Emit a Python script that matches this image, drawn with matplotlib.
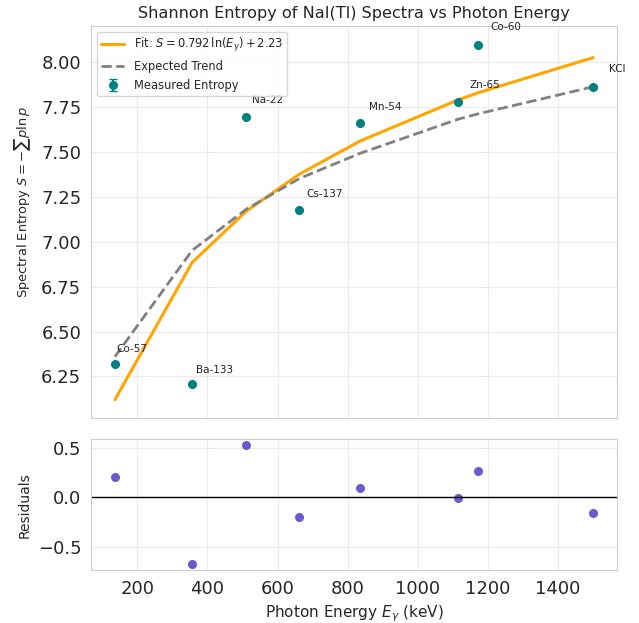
import numpy as np
import matplotlib
matplotlib.use("Agg")
import matplotlib.pyplot as plt
import seaborn as sns

sns.set_style("whitegrid")
plt.rcParams['font.family'] = ['DejaVu Sans']
plt.rcParams['grid.color'] = '#ebebeb'

# measured sources, sorted by photon energy
sources = ["Co-57", "Ba-133", "Na-22", "Cs-137", "Mn-54", "Zn-65", "Co-60", "KCl"]
energy_kev = [136, 356, 511, 662, 835, 1115, 1173, 1500]
entropy = [6.322, 6.206, 7.694, 7.178, 7.656, 7.778, 8.094, 7.861]
entropy_err = [0.005, 0.005, 0.005, 0.005, 0.005, 0.005, 0.005, 0.005]
expected = [6.36, 6.95, 7.18, 7.35, 7.49, 7.68, 7.71, 7.86]

# log fit parameters
fit_a = 0.792
fit_b = 2.23

E = np.array(energy_kev, dtype=float)
S = np.array(entropy)
S_fit = fit_a * np.log(E) + fit_b
resid = S - S_fit

fig = plt.figure(figsize=(6.39, 6.23), dpi=100)
gs = fig.add_gridspec(2, 1, height_ratios=[3, 1], hspace=0.084,
                      left=0.1424, right=0.9656, top=0.9583, bottom=0.0851)
ax = fig.add_subplot(gs[0])
axr = fig.add_subplot(gs[1], sharex=ax)

ax.plot(E, S_fit, color="orange", lw=2.2,
        label=r"Fit: $S = %.3f\,\ln(E_\gamma) + %.2f$" % (fit_a, fit_b))
ax.plot(E, expected, color="gray", lw=2, ls="--", label="Expected Trend")
ax.errorbar(E, S, yerr=entropy_err, fmt="o", color="teal", capsize=3,
            markersize=5.5, label="Measured Entropy")
# source names placed just up and to the right of each point
for name, x, y in zip(sources, E, S):
    ax.text(x * 1.03, y * 1.01, name, fontsize=7.5, color="#222222")

ax.set_title("Shannon Entropy of NaI(Tl) Spectra vs Photon Energy", fontsize=11.6)
ax.set_ylabel(r"Spectral Entropy $S = -\sum p \ln p$", fontsize=9.4)
ax.yaxis.set_label_coords(-0.11, 0.55)
ax.tick_params(axis="y", labelsize=13)
plt.setp(ax.get_xticklabels(), visible=False)
ax.legend(loc="upper left", fontsize=8.3, frameon=True)

axr.scatter(E, resid, color="slateblue", s=30)
axr.axhline(0, color="black", lw=1)
axr.set_ylabel("Residuals", fontsize=10)
axr.set_xlabel(r"Photon Energy $E_\gamma$ (keV)", fontsize=11)
axr.tick_params(axis="both", labelsize=13)

fig.savefig("out.png", dpi=100)
